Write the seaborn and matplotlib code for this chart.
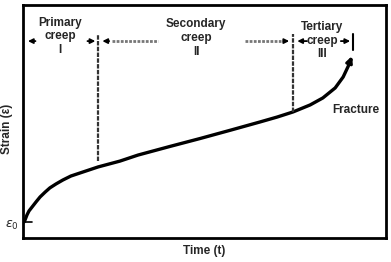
import numpy as np
import pandas as pd
import matplotlib
matplotlib.use("Agg")
import matplotlib.pyplot as plt
import seaborn as sns

sns.set_style("white")
plt.rcParams["font.family"] = ["Liberation Sans", "DejaVu Sans"]
plt.rcParams["mathtext.fontset"] = "dejavusans"

# creep curve (time, strain) in arbitrary 0-100 units
time = [0.3, 0.55, 1.1, 1.65, 2.5, 3.6, 4.7, 6.1, 7.4, 9.1, 11.0, 13.2, 15.7, 18.2, 20.7,
        26.7, 31.7, 40.5, 48.8, 57.0, 65.3, 70.0, 74.4, 79.1, 82.6, 86.0, 88.2, 89.5, 90.4]
strain = [6.9, 7.7, 9.9, 11.6, 13.3, 15.5, 17.6, 19.7, 21.5, 23.2, 24.9, 26.6, 27.9, 29.2, 30.5,
          33.0, 35.6, 39.3, 42.7, 46.2, 49.8, 51.9, 54.1, 57.1, 60.1, 64.4, 69.1, 73.4, 76.5]

# stage boundaries
stage_x = [20.7, 74.4]
stage_bottom = [33.0, 54.1]
stage_top = 87.5
fracture_x = 90.9
eps0 = 6.9

stage_names = ["Primary\ncreep\nI", "Secondary\ncreep\nII", "Tertiary\ncreep\nIII"]
stage_label_x = [10.2, 47.7, 82.4]
stage_label_y = [95.0, 94.2, 93.2]

df = pd.DataFrame({"t": time, "e": strain})

fig = plt.figure(figsize=(3.91, 2.62), dpi=100)
ax = fig.add_axes([0.0588, 0.0916, 0.9284, 0.8894])
sns.lineplot(data=df, x="t", y="e", ax=ax, color="black", lw=2.4, sort=False,
             solid_capstyle="round", solid_joinstyle="round")
ax.annotate("", xy=(90.9, 79.2), xytext=(time[-2], strain[-2]),
            arrowprops=dict(arrowstyle="-|>", color="black", lw=2.2, mutation_scale=9))

ax.set_xlim(0, 100)
ax.set_ylim(0, 100)
ax.set_xticks([])
ax.set_yticks([])
for s in ax.spines.values():
    s.set_linewidth(2.0)
    s.set_color("black")
ax.set_xlabel("Time (t)", fontsize=8.5, fontweight="bold", labelpad=5)
ax.set_ylabel("Strain (ε)", fontsize=8.5, fontweight="bold")
ax.yaxis.set_label_coords(-0.028, 0.47)

# vertical stage dividers
for x, yb in zip(stage_x, stage_bottom):
    ax.plot([x, x], [yb, stage_top], color="#333333", lw=1.6, ls=(0, (2, 0.6)))
ax.plot([fracture_x, fracture_x], [80.5, stage_top], color="black", lw=1.5)

# epsilon_0 tick
ax.plot([0, 2.5], [eps0, eps0], color="black", lw=1.2)
ax.text(-1.2, eps0 - 1.5, r"$\varepsilon_0$", fontsize=9, ha="right", va="center", clip_on=False)

arrow_y = 84.5
arr = dict(arrowstyle="-|>", color="black", lw=1.3, mutation_scale=7)
# primary
ax.annotate("", xy=(0.6, arrow_y), xytext=(4.2, arrow_y), arrowprops=arr)
ax.annotate("", xy=(stage_x[0], arrow_y), xytext=(17.0, arrow_y), arrowprops=arr)
# secondary
ax.annotate("", xy=(stage_x[0] + 0.4, arrow_y), xytext=(24.5, arrow_y), arrowprops=arr)
ax.plot([24.5, 37.2], [arrow_y, arrow_y], color="#777777", lw=2.0, ls=(0, (1, 0.5)))
ax.plot([61.2, 71.0], [arrow_y, arrow_y], color="#777777", lw=2.0, ls=(0, (1, 0.5)))
ax.annotate("", xy=(stage_x[1] - 0.3, arrow_y), xytext=(71.0, arrow_y), arrowprops=arr)
# tertiary
ax.annotate("", xy=(stage_x[1] + 0.4, arrow_y), xytext=(79.0, arrow_y), arrowprops=arr)
ax.annotate("", xy=(fracture_x, arrow_y), xytext=(86.8, arrow_y), arrowprops=arr)

for name, x, y in zip(stage_names, stage_label_x, stage_label_y):
    ax.text(x, y, name, fontsize=8.5, fontweight="bold", ha="center", va="top", linespacing=1.2)

ax.text(91.8, 55.0, "Fracture", fontsize=8.5, fontweight="bold", ha="center", va="center")

fig.savefig("out.png", dpi=100)
plt.close(fig)
